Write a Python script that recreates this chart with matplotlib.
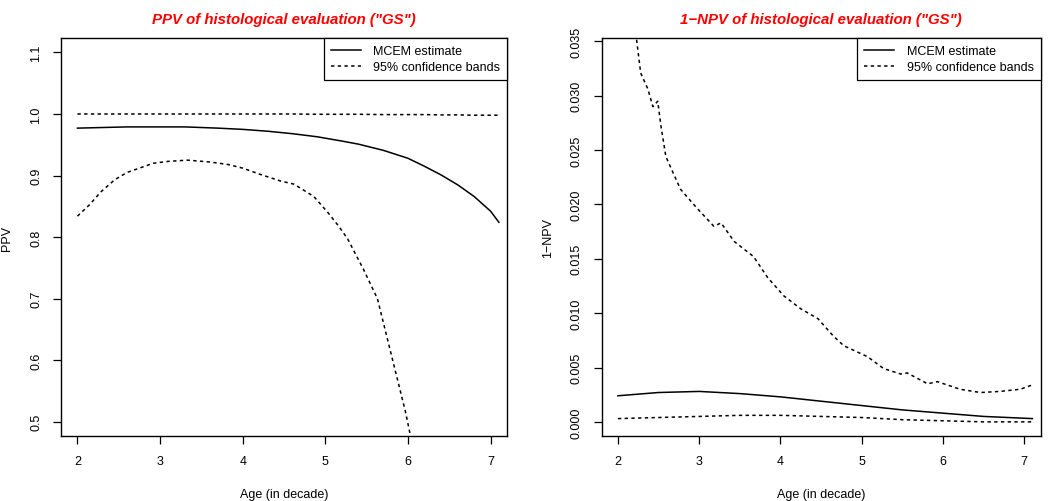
import matplotlib
matplotlib.use("Agg")
import matplotlib.pyplot as plt

plt.rcParams['font.family'] = ['Liberation Sans', 'DejaVu Sans']

# PPV panel
age_ppv = [2.0, 2.3, 2.6, 2.9, 3.3, 3.7, 4.0, 4.3, 4.6, 4.9, 5.2, 5.4, 5.7, 6.0, 6.2, 6.4, 6.6, 6.8, 7.0, 7.1]
ppv_est = [0.977, 0.978, 0.979, 0.979, 0.979, 0.977, 0.975, 0.972, 0.968, 0.963, 0.956, 0.951, 0.941, 0.928, 0.915, 0.901, 0.885, 0.866, 0.842, 0.824]
ppv_hi = [1.000, 1.000, 1.000, 1.000, 1.000, 1.000, 1.000, 1.000, 1.000, 0.9995, 0.9995, 0.9995, 0.999, 0.999, 0.999, 0.9985, 0.9985, 0.998, 0.998, 0.998]
age_ppv_lo = [2.0, 2.15, 2.28, 2.45, 2.6, 2.75, 2.92, 3.1, 3.33, 3.6, 3.82, 4.0, 4.21, 4.46, 4.62, 4.86, 5.03, 5.16, 5.27, 5.46, 5.63, 5.75, 5.87, 5.97, 6.03]
ppv_lo = [0.834, 0.853, 0.873, 0.893, 0.905, 0.912, 0.920, 0.923, 0.925, 0.922, 0.918, 0.912, 0.902, 0.891, 0.886, 0.866, 0.840, 0.818, 0.797, 0.748, 0.700, 0.635, 0.570, 0.516, 0.477]

# 1-NPV panel
age_npv = [2.0, 2.5, 3.0, 3.5, 4.0, 4.5, 5.0, 5.5, 6.0, 6.5, 7.1]
npv_est = [0.0024, 0.0027, 0.0028, 0.0026, 0.0023, 0.0019, 0.0015, 0.0011, 0.0008, 0.0005, 0.0003]
npv_lo = [0.0003, 0.0004, 0.0005, 0.0006, 0.0006, 0.0005, 0.0004, 0.0002, 0.0001, 0.0000, 0.0000]
age_npv_hi = [2.2, 2.28, 2.37, 2.43, 2.49, 2.53, 2.59, 2.77, 2.98, 3.18, 3.27, 3.43, 3.67, 3.84, 4.04, 4.25, 4.46,
              4.65, 4.78, 5.07, 5.27, 5.48, 5.56, 5.81, 5.93, 6.21, 6.46, 6.7, 6.95, 7.1]
npv_hi = [0.0370, 0.0321, 0.0306, 0.0290, 0.0295, 0.0272, 0.0244, 0.0214, 0.0196, 0.0180, 0.0183, 0.0166, 0.0152,
          0.0133, 0.0116, 0.0104, 0.0095, 0.0079, 0.0070, 0.0060, 0.0049, 0.0044, 0.0045, 0.0035, 0.0037, 0.0030,
          0.0027, 0.0028, 0.0030, 0.0034]

ppv_ticks = [0.5, 0.6, 0.7, 0.8, 0.9, 1.0, 1.1]
npv_ticks = [0.000, 0.005, 0.010, 0.015, 0.020, 0.025, 0.030, 0.035]
age_ticks = [2, 3, 4, 5, 6, 7]

dash = (0, (2.2, 2.2))
fig = plt.figure(figsize=(10.5, 5.02), dpi=100)
ax1 = fig.add_axes([0.058, 0.1295, 0.425, 0.7925])
ax2 = fig.add_axes([0.573, 0.1295, 0.418, 0.7925])


def style(ax, title, ylab, yticks, ylim, fmt):
    ax.set_xlim(1.8, 7.2)
    ax.set_ylim(*ylim)
    ax.set_xticks(age_ticks)
    ax.set_yticks(yticks)
    ax.set_yticklabels([fmt % v for v in yticks], rotation=90, va='center')
    ax.tick_params(direction='out', length=5.5, width=0.9, labelsize=9, pad=8, colors='black')
    for s in ax.spines.values():
        s.set_linewidth(1.0)
    ax.set_title(title, color='red', fontsize=10.8, fontweight='bold', style='italic', pad=11)
    ax.set_xlabel('Age (in decade)', fontsize=9, labelpad=15)
    ax.set_ylabel(ylab, fontsize=9, labelpad=12)
    ax.legend(loc='upper right', fontsize=9, frameon=True, fancybox=False, framealpha=1,
              edgecolor='black', borderaxespad=0, handlelength=2.4, handletextpad=1.0,
              labelspacing=0.35, borderpad=0.55).get_frame().set_linewidth(0.9)


ax1.plot(age_ppv, ppv_est, color='black', lw=1.1, label='MCEM estimate')
ax1.plot(age_ppv, ppv_hi, color='black', lw=1.1, ls=dash, label='95% confidence bands')
ax1.plot(age_ppv_lo, ppv_lo, color='black', lw=1.1, ls=dash)
style(ax1, 'PPV of histological evaluation ("GS")', 'PPV', ppv_ticks, (0.4768, 1.1232), '%.1f')

ax2.plot(age_npv, npv_est, color='black', lw=1.1, label='MCEM estimate')
ax2.plot(age_npv_hi, npv_hi, color='black', lw=1.1, ls=dash, label='95% confidence bands')
ax2.plot(age_npv, npv_lo, color='black', lw=1.1, ls=dash)
style(ax2, '1\u2212NPV of histological evaluation ("GS")', '1\u2212NPV', npv_ticks, (-0.0013, 0.0353), '%.3f')

fig.savefig('out.png', dpi=100)
